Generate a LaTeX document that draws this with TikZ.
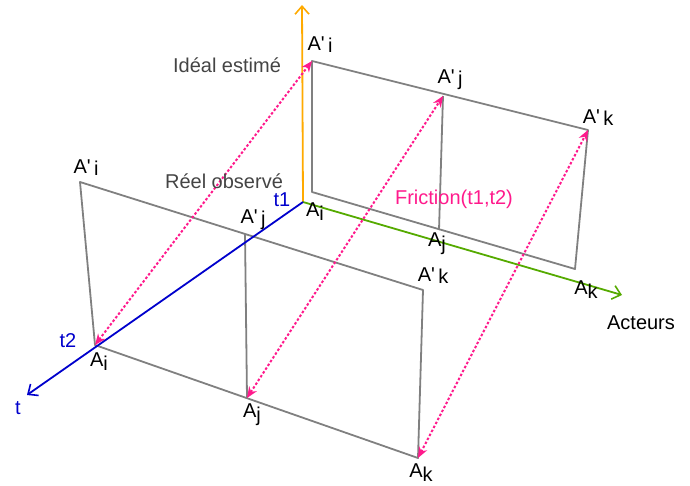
\documentclass[tikz,border=0pt]{standalone}
\usepackage{fontspec}
\setmainfont{Liberation Sans}[Ligatures=TeXOff]
\usetikzlibrary{arrows.meta}
\definecolor{gline}{HTML}{808080}
\definecolor{orax}{HTML}{FFAA00}
\definecolor{blax}{HTML}{0000CC}
\definecolor{grax}{HTML}{55AA00}
\definecolor{pk}{HTML}{FF1A8C}
\definecolor{dtext}{HTML}{444444}
\begin{document}
\begin{tikzpicture}[x=1pt,y=-1pt,
  plane/.style={draw=gline,line width=1.8pt,line join=round},
  axis/.style={line width=1.8pt,-{Straight Barb[length=8pt,width=14pt,line width=1.6pt]}},
  fric/.style={draw=pk,line width=2pt,dash pattern=on 2.5pt off 2pt,{Stealth[length=11pt,width=9pt,inset=3.5pt]}-{Stealth[length=11pt,width=9pt,inset=3.5pt]}},
  lbl/.style={font=\fontsize{20}{20}\selectfont,inner sep=0pt},
  nlbl/.style={font=\fontsize{20}{20}\selectfont,inner sep=0pt}
]
\useasboundingbox (0,0) rectangle (690,485);
% back plane (t1)
\coordinate (bAi) at (312,192);
\coordinate (bApi) at (312,61);
\coordinate (bAj) at (439,230);
\coordinate (bApj) at (443,96);
\coordinate (bAk) at (575,269);
\coordinate (bApk) at (588,130);
% front plane (t2)
\coordinate (fAi) at (95,345);
\coordinate (fApi) at (80,182);
\coordinate (fAj) at (247,398);
\coordinate (fApj) at (245,234);
\coordinate (fAk) at (418,458);
\coordinate (fApk) at (423,290);
% axes
\coordinate (O) at (303,202);
\coordinate (tEnd) at (27,395);
\coordinate (aEnd) at (622,295);
\coordinate (vEnd) at (302,5);

\draw[plane] (bAi) -- (bApi) -- (bApk) -- (bAk) -- cycle;
\draw[plane] (bApj) -- (bAj);
\draw[axis,draw=orax] (O) -- (vEnd);
\draw[axis,draw=grax] (O) -- (aEnd);
\draw[plane] (fAi) -- (fApi) -- (fApk) -- (fAk) -- cycle;
\draw[plane] (fApj) -- (fAj);
\draw[axis,draw=blax] (O) -- (tEnd);

\draw[fric] (fAi) -- (bApi);
\draw[fric] (fAj) -- (bApj);
\draw[fric] (fAk) -- (bApk);

% labels
\newcommand{\Ap}[1]{A'\,\raisebox{-2pt}{#1}}
\newcommand{\Asub}[1]{A\raisebox{-4pt}{#1}}
\node[lbl] (l1) at (320,45) {\Ap{i}};
\node[lbl] (l2) at (450,80) {\Ap{j}};
\node[lbl] (l3) at (598,118) {\Ap{k}};
\node[lbl] (l4) at (86,168) {\Ap{i}};
\node[lbl] (l5) at (253,220) {\Ap{j}};
\node[lbl] (l6) at (433,276) {\Ap{k}};
\node[lbl] (l7) at (315,212) {\Asub{i}};
\node[lbl] (l8) at (437,244) {\Asub{j}};
\node[lbl] (l9) at (586,290) {\Asub{k}};
\node[lbl] (l10) at (99,362) {\Asub{i}};
\node[lbl] (l11) at (252,415) {\Asub{j}};
\node[lbl] (l12) at (421,473) {\Asub{k}};
\node[nlbl,text=dtext] (ie) at (227,65) {Idéal estimé};
\node[nlbl,text=dtext] (ro) at (224,181) {Réel observé};
\node[nlbl,text=pk] (fr) at (454,199) {Friction(t1,t2)};
\node[nlbl] (ac) at (641,323) {Acteurs};
\node[nlbl,text=blax] (t1) at (282,200) {t1};
\node[nlbl,text=blax] (t2) at (68,341) {t2};
\node[nlbl,text=blax] (t) at (18,408) {t};
\end{tikzpicture}
\end{document}
